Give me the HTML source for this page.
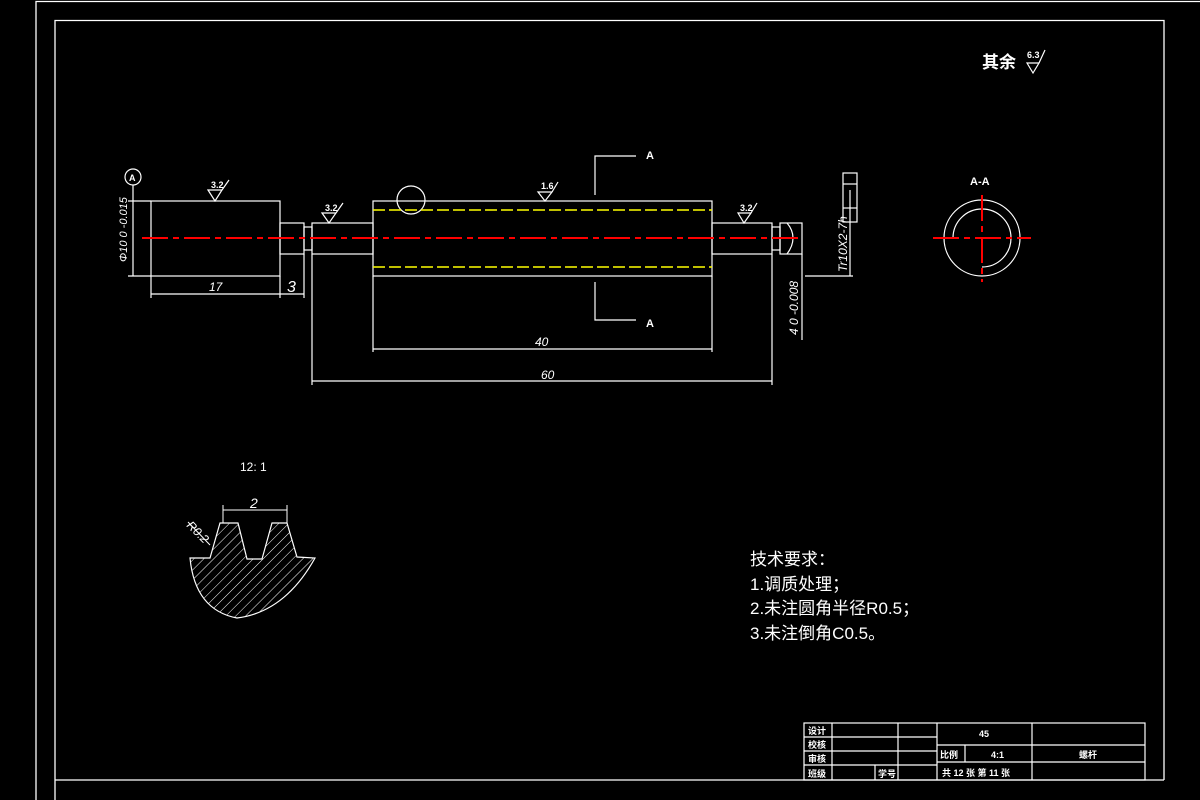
<!DOCTYPE html>
<html><head><meta charset="utf-8"><style>
html,body{margin:0;padding:0;background:#000;}
svg{display:block}
text{font-family:"Liberation Sans","Noto Sans CJK SC",sans-serif;fill:#fff}
</style></head><body>
<svg width="1200" height="800" viewBox="0 0 1200 800" xmlns="http://www.w3.org/2000/svg">
<defs>
<pattern id="h" width="7" height="7" patternUnits="userSpaceOnUse" patternTransform="rotate(45)">
<line x1="0" y1="0" x2="0" y2="7" stroke="#fff" stroke-width="1"/>
</pattern>
</defs>
<rect width="1200" height="800" fill="#000"/>
<g fill="none" stroke="#fff" stroke-width="1.3">
<polyline points="36,800 36,1.5 1200,1.5"/>
<polyline points="55,800 55,20.5 1164,20.5 1164,780"/>
<line x1="55" y1="780" x2="1164" y2="780"/>
</g>
<!-- shaft -->
<g fill="none" stroke="#fff" stroke-width="1.2">
<rect x="151" y="201" width="129" height="75"/>
<rect x="280" y="223" width="24" height="31"/>
<rect x="304" y="227" width="8" height="23"/>
<rect x="312" y="223" width="61" height="31"/>
<rect x="373" y="201" width="339" height="75"/>
<rect x="712" y="223" width="60" height="31"/>
<rect x="772" y="227" width="8" height="23"/>
<rect x="780" y="223" width="22" height="31"/>
<path d="M787,223 Q793,230 793,238 Q793,246 787,254"/>
<circle cx="411" cy="200" r="14"/>
<polyline points="595,195 595,156 636,156"/>
<polyline points="595,282 595,320 636,320"/>
<line x1="151" y1="276" x2="151" y2="298"/>
<line x1="280" y1="276" x2="280" y2="298"/>
<line x1="304" y1="254" x2="304" y2="298"/>
<line x1="151" y1="294" x2="304" y2="294"/>
<line x1="312" y1="254" x2="312" y2="385"/>
<line x1="373" y1="276" x2="373" y2="352"/>
<line x1="712" y1="276" x2="712" y2="352"/>
<line x1="772" y1="254" x2="772" y2="385"/>
<line x1="802" y1="254" x2="802" y2="340"/>
<line x1="373" y1="349" x2="712" y2="349"/>
<line x1="312" y1="381" x2="772" y2="381"/>
<line x1="128" y1="201" x2="151" y2="201"/>
<line x1="128" y1="276" x2="151" y2="276"/>
<line x1="133" y1="201" x2="133" y2="276"/>
<line x1="133" y1="185" x2="133" y2="201"/>
<circle cx="133" cy="177" r="8"/>
<line x1="805" y1="276" x2="853" y2="276"/>
<line x1="850" y1="190" x2="850" y2="276"/>
<rect x="843" y="173" width="14" height="49"/>
<line x1="843" y1="184" x2="857" y2="184"/>
<line x1="843" y1="208" x2="857" y2="208"/>
<path d="M208,190 L215,201 L222,190 Z M222,190 L229,180"/>
<path d="M322,213 L329,223 L336,213 Z M336,213 L343,203"/>
<path d="M538,192 L545,201 L552,192 Z M552,192 L558,182"/>
<path d="M738,213 L744,223 L751,213 Z M751,213 L757,203"/>
<path d="M1027,63 L1033,73 L1039,63 Z M1039,63 L1045,50"/>
<circle cx="982" cy="238" r="38"/>
<path d="M953,238 A29,29 0 1 1 982,267"/>
</g>
<g stroke="#ff0000" stroke-width="2" stroke-dasharray="26,5,6,5">
<line x1="142" y1="238" x2="800" y2="238"/>
<line x1="933" y1="238" x2="1031" y2="238"/>
<line x1="982" y1="195" x2="982" y2="282"/>
</g>
<g stroke="#ffff00" stroke-width="1.5" stroke-dasharray="12,4">
<line x1="373" y1="210" x2="712" y2="210"/>
<line x1="373" y1="267" x2="712" y2="267"/>
</g>
<g font-size="9" font-weight="bold">
<text x="129" y="181" font-size="9">A</text>
<text x="211" y="188">3.2</text>
<text x="325" y="211">3.2</text>
<text x="541" y="189">1.6</text>
<text x="740" y="211">3.2</text>
<text x="1027" y="58">6.3</text>
</g>
<g font-size="12" font-style="italic">
<text x="209" y="291">17</text>
<text x="287" y="292" font-size="16">3</text>
<text x="535" y="346">40</text>
<text x="541" y="379">60</text>
<text transform="translate(127,262) rotate(-90)" font-size="11">Φ10 0 -0.015</text>
<text transform="translate(847,272) rotate(-90)" font-size="12">Tr10X2-7h</text>
<text transform="translate(798,335) rotate(-90)" font-size="12">4 0 -0.008</text>
</g>
<g font-size="11" font-weight="bold">
<text x="646" y="159">A</text>
<text x="646" y="327">A</text>
<text x="970" y="185">A-A</text>
</g>
<text x="982" y="68" font-size="17" font-weight="bold">其余</text>
<text x="240" y="471" font-size="12">12: 1</text>
<path d="M220,523 L238,523 L247,559 L262,559 L272,523 L287,523 L297,557 L315,558 Q285,612 237,618 Q195,610 190,558 L210,558 Z" fill="url(#h)" stroke="#fff" stroke-width="1.2"/>
<g stroke="#fff" stroke-width="1"><line x1="223" y1="510" x2="287" y2="510"/><line x1="223" y1="505" x2="223" y2="523"/><line x1="287" y1="505" x2="287" y2="523"/><line x1="188" y1="522" x2="210" y2="545"/></g>
<text x="250" y="508" font-size="14" font-style="italic">2</text>
<text transform="translate(186,526) rotate(45)" font-size="12" font-style="italic">R0.2</text>
<g font-size="17">
<text x="750" y="565">技术要求：</text>
<text x="750" y="590">1.调质处理；</text>
<text x="750" y="614">2.未注圆角半径R0.5；</text>
<text x="750" y="639">3.未注倒角C0.5。</text>
</g>
<g fill="none" stroke="#fff" stroke-width="1.2">
<rect x="804" y="723" width="341" height="57"/>
<line x1="804" y1="737" x2="937" y2="737"/>
<line x1="804" y1="751" x2="937" y2="751"/>
<line x1="804" y1="765" x2="937" y2="765"/>
<line x1="832" y1="723" x2="832" y2="780"/>
<line x1="898" y1="723" x2="898" y2="780"/>
<line x1="875" y1="765" x2="875" y2="780"/>
<line x1="937" y1="723" x2="937" y2="780"/>
<line x1="1032" y1="723" x2="1032" y2="780"/>
<line x1="937" y1="745" x2="1145" y2="745"/>
<line x1="937" y1="762" x2="1145" y2="762"/>
<line x1="965" y1="745" x2="965" y2="762"/>
</g>
<g font-size="9" font-weight="bold">
<text x="808" y="734">设计</text>
<text x="808" y="748">校核</text>
<text x="808" y="762">审核</text>
<text x="808" y="777">班级</text>
<text x="878" y="777">学号</text>
<text x="979" y="737">45</text>
<text x="940" y="758">比例</text>
<text x="991" y="758">4:1</text>
<text x="1079" y="758">螺杆</text>
<text x="942" y="776">共 12 张 第 11 张</text>
</g>
</svg>
</body></html>
